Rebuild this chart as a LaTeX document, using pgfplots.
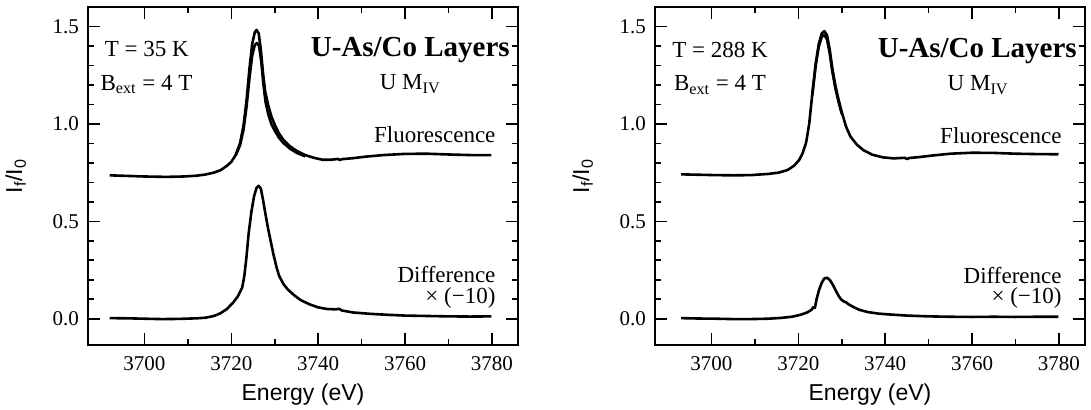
\documentclass[border=0pt]{standalone}
\usepackage{fontspec}
\setmainfont{Liberation Serif}
\setsansfont{Liberation Sans}
\usepackage{pgfplots}
\pgfplotsset{compat=1.18}

\tikzset{txt/.style={font=\fontsize{11.5}{13}\selectfont, inner sep=0pt}}
\pgfplotsset{myax/.style={
  width=215pt, height=169pt, scale only axis,
  xmin=3687, xmax=3786, ymin=-0.135, ymax=1.6,
  xtick={3700,3720,3740,3760,3780}, minor x tick num=1,
  ytick={0,0.5,1,1.5}, minor y tick num=4,
  tick align=inside, major tick length=6pt, minor tick length=2.8pt,
  every tick/.style={black, line width=0.8pt},
  axis line style={line width=0.9pt},
  xticklabel style={/pgf/number format/1000 sep={}, font=\fontsize{10.5}{12}\selectfont, yshift=-2pt},
  yticklabel style={/pgf/number format/.cd, fixed, fixed zerofill, precision=1, /tikz/.cd, font=\fontsize{10.5}{12}\selectfont, xshift=-1pt},
  /pgf/number format/assume math mode=true,
  xlabel={Energy (eV)},
  ylabel={I\textsubscript{f}/I\textsubscript{0}},
  every axis x label/.style={at={(axis description cs:0.5,0)}, anchor=center, yshift=-25pt, font=\sffamily\fontsize{11.5}{13}\selectfont},
  every axis y label/.style={at={(axis description cs:-0.168,0.5)}, anchor=center, rotate=90, font=\sffamily\fontsize{11.5}{13}\selectfont},
  no markers,
  every axis plot post/.append style={black, line width=1.3pt, line join=round, mark=none},
}}

\begin{document}
\begin{tikzpicture}
\path[use as bounding box] (0,0) rectangle (545.5pt,204.5pt);

% ---------------- Left panel: T = 35 K ----------------
\begin{axis}[myax, at={(44pt,32pt)}, anchor=south west]
% fluorescence (upper helicity)
\addplot table {
3692 0.736
3696 0.733
3700 0.730
3705 0.728
3709 0.730
3712 0.734
3714 0.740
3716 0.750
3717.5 0.762
3719 0.785
3720 0.805
3721 0.840
3722 0.900
3722.8 0.990
3723.5 1.120
3724.2 1.290
3724.8 1.410
3725.4 1.470
3725.8 1.482
3726.3 1.465
3726.8 1.380
3727.3 1.260
3727.8 1.165
3728.5 1.095
3729.2 1.040
3730 0.995
3731 0.950
3732 0.918
3733.5 0.885
3735 0.862
3737 0.840
3739 0.826
3741 0.816
3743 0.816
3744.5 0.820
3745 0.815
3745.5 0.819
3748 0.824
3751 0.832
3755 0.840
3760 0.846
3765 0.847
3770 0.843
3775 0.840
3779.9 0.840
};
% fluorescence (lower helicity) near the peak
\addplot table {
3721 0.838
3722 0.890
3722.8 0.970
3723.5 1.087
3724.2 1.240
3724.8 1.350
3725.4 1.405
3725.9 1.415
3726.4 1.400
3726.9 1.318
3727.4 1.200
3727.9 1.110
3728.5 1.050
3729.2 1.000
3730 0.965
3731 0.928
3732 0.902
3733.5 0.873
3735 0.852
3737 0.833
};
% difference x(-10)
\addplot table {
3692 0.003
3696 0.002
3700 0.000
3704 -0.002
3708 -0.001
3712 0.002
3714 0.005
3716 0.014
3717.5 0.028
3719 0.050
3720.5 0.085
3721.5 0.115
3722.5 0.160
3723 0.220
3723.5 0.320
3724 0.440
3724.6 0.545
3725.2 0.625
3725.8 0.672
3726.3 0.682
3726.8 0.668
3727.3 0.610
3727.8 0.545
3728.4 0.470
3729 0.405
3729.7 0.330
3730.4 0.265
3731 0.220
3732 0.178
3733 0.150
3734.5 0.120
3736 0.095
3738 0.074
3740 0.058
3742 0.050
3744 0.048
3744.8 0.051
3745.5 0.042
3748 0.032
3752 0.025
3756 0.020
3760 0.016
3765 0.014
3770 0.012
3775 0.011
3779.9 0.012
};
\node[txt, anchor=base west] at (axis cs:3690.8,1.347) {T = 35 K};
\node[txt, anchor=base west] at (axis cs:3689.8,1.172) {B\textsubscript{ext} = 4 T};
\node[inner sep=0pt, anchor=base east, font=\bfseries\fontsize{14.5}{16}\selectfont] at (axis cs:3784.2,1.347) {U-As/Co Layers};
\node[txt, anchor=base west] at (axis cs:3754.1,1.175) {U M\textsubscript{IV}};
\node[txt, anchor=base east] at (axis cs:3780.9,0.907) {Fluorescence};
\node[txt, anchor=base east] at (axis cs:3780.9,0.184) {Difference};
\node[txt, anchor=base east] at (axis cs:3780.9,0.077) {× (−10)};
\end{axis}

% ---------------- Right panel: T = 288 K ----------------
\begin{axis}[myax, at={(327.5pt,32pt)}, anchor=south west]
\addplot table {
3693 0.741
3697 0.739
3701 0.737
3705 0.736
3709 0.737
3713 0.743
3715.5 0.750
3717.5 0.763
3719 0.785
3720.2 0.815
3721 0.850
3721.8 0.905
3722.5 1.000
3723.2 1.150
3724 1.310
3724.7 1.410
3725.4 1.465
3726 1.476
3726.6 1.455
3727.2 1.385
3727.8 1.290
3728.5 1.200
3729.2 1.130
3730 1.060
3731 0.985
3732 0.935
3733.5 0.893
3735 0.865
3737 0.842
3739.5 0.828
3742 0.823
3744.5 0.826
3745 0.820
3745.6 0.825
3748 0.830
3751 0.838
3755 0.847
3760 0.852
3765 0.851
3770 0.847
3775 0.845
3779.9 0.844
};
\addplot table {
3723.2 1.146
3724 1.300
3724.7 1.396
3725.4 1.447
3726 1.456
3726.6 1.434
3727.2 1.365
3727.8 1.272
3728.5 1.185
3729.2 1.118
3730 1.051
};
\addplot table {
3693 0.003
3697 0.001
3701 0.000
3705 -0.002
3709 -0.002
3713 0.000
3716 0.004
3718.5 0.010
3720.5 0.020
3722 0.032
3723 0.045
3723.5 0.060
3723.8 0.055
3724.2 0.100
3724.8 0.150
3725.4 0.185
3726 0.207
3726.6 0.210
3727.2 0.200
3727.8 0.180
3728.5 0.150
3729.2 0.120
3729.8 0.100
3730.5 0.088
3731 0.084
3731.5 0.075
3732.5 0.062
3734 0.046
3736 0.034
3738.5 0.026
3741.5 0.021
3745 0.016
3750 0.012
3755 0.010
3760 0.009
3765 0.010
3770 0.009
3775 0.010
3779.9 0.010
};
\node[txt, anchor=base west] at (axis cs:3690.9,1.341) {T = 288 K};
\node[txt, anchor=base west] at (axis cs:3691.3,1.170) {B\textsubscript{ext} = 4 T};
\node[inner sep=0pt, anchor=base east, font=\bfseries\fontsize{14.5}{16}\selectfont] at (axis cs:3784.2,1.341) {U-As/Co Layers};
\node[txt, anchor=base west] at (axis cs:3754.3,1.170) {U M\textsubscript{IV}};
\node[txt, anchor=base east] at (axis cs:3780.7,0.900) {Fluorescence};
\node[txt, anchor=base east] at (axis cs:3780.7,0.180) {Difference};
\node[txt, anchor=base east] at (axis cs:3780.7,0.077) {× (−10)};
\end{axis}
\end{tikzpicture}
\end{document}
